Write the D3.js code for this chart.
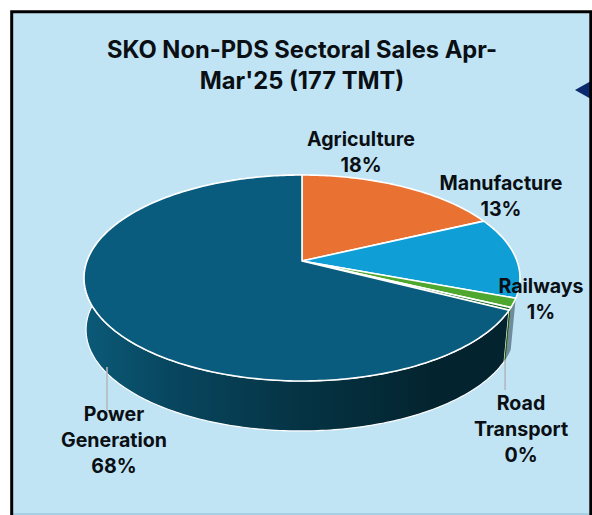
<!DOCTYPE html>
<html><head><meta charset="utf-8">
<script src="https://cdn.jsdelivr.net/npm/d3@7"></script>
<style>html,body{margin:0;padding:0;background:#fff}svg{display:block}text{font-family:Inter,Roboto,sans-serif;font-weight:700;fill:#0a0f14}</style>
</head><body><svg id="c" width="592" height="515"></svg>
<script>
const categories = ["Agriculture","Manufacture","Railways","Road Transport","Power Generation"];
const values = [18.0,12.7,1.4,0.4,67.5];
const colors = ["#e97132","#0f9ed5","#4ea72e","#196b24","#0a5c7e"];
const sideColors = [null,null,"#6e8b9c","#2b5a1e","#0a5c7e"];
const titleLines = ["SKO Non-PDS Sectoral Sales Apr-","Mar'25 (177 TMT)"];
const labelLines = [["Agriculture","18%"],["Manufacture","13%"],["Railways","1%"],["Road","Transport","0%"],["Power","Generation","68%"]];
const labelX = [361,501,541,521,114];
const labelY = [146,190,293,410,421];

const svg = d3.select("#c");
svg.append("rect").attr("x",12).attr("y",12).attr("width",578).attr("height",503).attr("fill","#c1e4f5");
svg.append("rect").attr("x",12).attr("y",513).attr("width",578).attr("height",2).attr("fill","#a9cfe6");
svg.append("path").attr("d","M591,81L575,90L591,99Z").attr("fill","#0b2a6e");
svg.append("path").attr("d","M11.7,515V11.7H590.8V515").attr("fill","none").attr("stroke","#000").attr("stroke-width",3);

const k=.165, cx=302;
const project=(a,top)=>{const u=Math.sin(a),v=-Math.cos(a),w=1-k*v;
  return top?[cx+215*u/w,261+100.2*v/w]:[300.5+211.5*u/w,313+98.5*v/w];};
const pie=d3.pie().sort(null).value(d=>d)(values);
const line=d3.line();
const samples=(a0,a1)=>{const n=Math.max(2,Math.ceil((a1-a0)*60));return d3.range(n+1).map(i=>a0+(a1-a0)*i/n);};

const defs=svg.append("defs");
const g=defs.append("linearGradient").attr("id","side").attr("gradientUnits","userSpaceOnUse").attr("x1",85).attr("x2",520).attr("y1",0).attr("y2",0);
[[0,"#0b5a78"],[.2,"#08465f"],[.5,"#053343"],[.8,"#03242f"],[1,"#03242f"]].forEach(s=>g.append("stop").attr("offset",s[0]).attr("stop-color",s[1]));

[4,2,3].forEach(i=>{const p=pie[i],as=samples(p.startAngle,p.endAngle);
  const pts=as.map(a=>project(a,true)).concat(as.slice().reverse().map(a=>project(a,false)));
  const s=svg.append("path").attr("d",line(pts)+"Z").attr("fill",i===4?"url(#side)":sideColors[i]);
  if(i===4) s.attr("stroke","#fff").attr("stroke-width",1.2);
});
pie.forEach((p,i)=>{const as=samples(p.startAngle,p.endAngle);
  const pts=[[cx,261]].concat(as.map(a=>project(a,true)));
  svg.append("path").attr("d",line(pts)+"Z").attr("fill",colors[i]).attr("stroke","#fff").attr("stroke-width",1.6).attr("stroke-linejoin","round");
});
// leader lines
const mid=i=>project((pie[i].startAngle+pie[i].endAngle)/2,false);
svg.append("path").attr("d",line([[mid(3)[0],mid(3)[1]],[mid(3)[0],390]])).attr("stroke","#b5b8bb").attr("stroke-width",1.6).attr("fill","none");
svg.append("path").attr("d",line([[107,367],[107,411]])).attr("stroke","#b5b8bb").attr("stroke-width",1.6).attr("fill","none");

titleLines.forEach((t,i)=>svg.append("text").attr("x",302).attr("y",58+i*31).attr("text-anchor","middle").attr("font-size",23.7).text(t));
labelLines.forEach((ls,i)=>ls.forEach((t,j)=>svg.append("text").attr("x",labelX[i]).attr("y",labelY[i]+j*26).attr("text-anchor","middle").attr("font-size",19.6).text(t)));
</script></body></html>
